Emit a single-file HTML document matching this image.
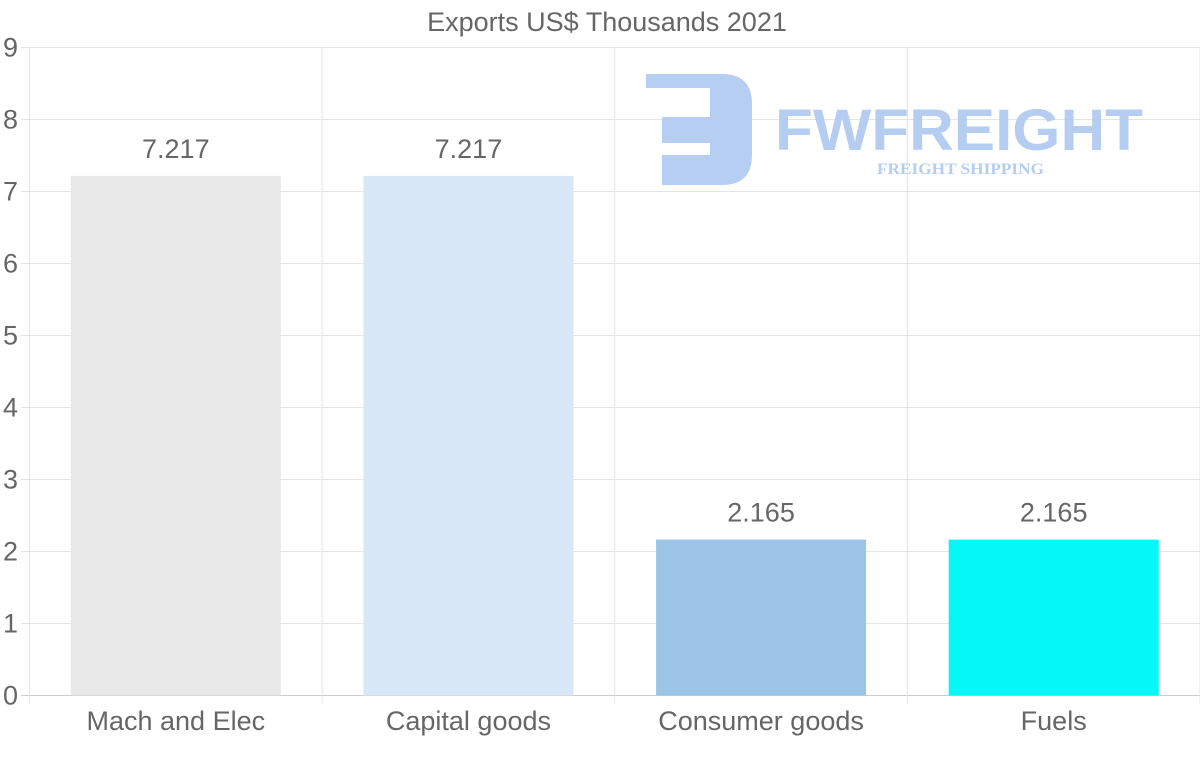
<!DOCTYPE html>
<html><head><meta charset="utf-8"><style>
html,body{margin:0;padding:0;background:#fff;}
svg text{font-family:"Liberation Sans",sans-serif;}
</style></head><body>
<svg id="chart" width="1200" height="763">
<text x="607" y="31" font-size="27" fill="#666" text-anchor="middle">Exports US$ Thousands 2021</text>
<g id="grid"></g>
<g id="logo" opacity="0.95">
<path d="M646 74 H722 Q752 74 752 104 V155 Q752 185 722 185 H662 V155 H710 V143 H662 V117 H710 V88 H646 Z" fill="#b3cbf2"/>
<text x="775" y="150" font-size="58" font-weight="bold" fill="#b3cbf2" textLength="368" lengthAdjust="spacingAndGlyphs">FWFREIGHT</text>
<text x="877" y="174" font-size="16" font-weight="bold" fill="#b3cbf2" style="font-family:'Liberation Serif',serif" textLength="167" lengthAdjust="spacingAndGlyphs">FREIGHT SHIPPING</text>
</g>
<g id="bars"></g>
</svg>
<script>
const categories = ["Mach and Elec","Capital goods","Consumer goods","Fuels"];
const values = [7.217,7.217,2.165,2.165];
const valueLabels = ["7.217","7.217","2.165","2.165"];
const yTicks = [0,1,2,3,4,5,6,7,8,9];
const colors = ["#e8e8e8","#d8e7f8","#9cc4e7","#04f8f8"];
const NS="http://www.w3.org/2000/svg";
const L=29.5,R=1200,T=47.5,B=695.5,YMAX=9;
const y=v=>B-(v/YMAX)*(B-T);
const bw=(R-L)/categories.length;
const xc=i=>L+bw*(i+0.5);
function mk(tag,attrs,parent){const e=document.createElementNS(NS,tag);for(const k in attrs)e.setAttribute(k,attrs[k]);parent.appendChild(e);return e;}
const grid=document.getElementById('grid'),bars=document.getElementById('bars');
yTicks.forEach(t=>{
  const ln=mk('line',{x1:21,x2:R,y1:y(t),y2:y(t),stroke:t===0?'#ccc':'#e5e5e5'},grid);
  
  
  const tx=mk('text',{x:18,y:y(t)+9,'font-size':27,fill:'#666','text-anchor':'end'},grid);
  tx.textContent=t;
  
  
});
for(let i=0;i<=categories.length;i++){
  const x=L+bw*i;
  const ln=mk('line',{x1:x,x2:x,y1:T,y2:B+8,stroke:'#e5e5e5'},grid);
  
  
}
categories.forEach((c,i)=>{
  const w=210;
  const r=mk('rect',{x:xc(i)-w/2,y:y(values[i]),width:w,height:B-y(values[i]),fill:colors[i]},bars);
  
  
  const v=mk('text',{x:xc(i),y:y(values[i])-18,'font-size':27,fill:'#666','text-anchor':'middle'},bars);
  v.textContent=valueLabels[i];
  
  
  const l=mk('text',{x:xc(i),y:730,'font-size':27,fill:'#666','text-anchor':'middle'},bars);
  l.textContent=c;
  
  
});
</script>
</body></html>
